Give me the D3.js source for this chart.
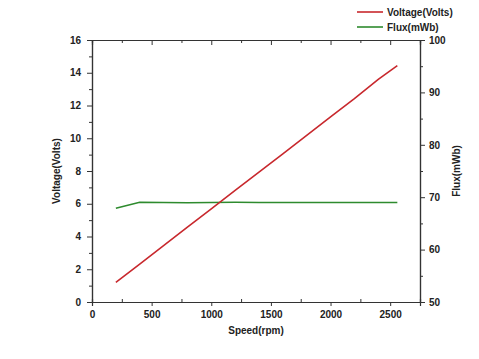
<!DOCTYPE html>
<html>
<head>
<meta charset="utf-8">
<script src="https://cdn.jsdelivr.net/npm/d3@7"></script>
<style>
  body { margin: 0; background: #fff; }
  text { font-family: "Liberation Sans", Arial, sans-serif; font-weight: bold; fill: #222; }
</style>
</head>
<body>
<div id="chart"></div>
<script>
// data
const speed   = [200, 400, 600, 800, 1000, 1200, 1400, 1600, 1800, 2000, 2200, 2400, 2560];
const voltage = [1.2, 2.32, 3.44, 4.57, 5.69, 6.81, 7.93, 9.05, 10.18, 11.3, 12.42, 13.6, 14.44];
const flux    = [67.9, 69.05, 69.0, 68.95, 69.0, 69.05, 69.0, 69.0, 69.0, 69.0, 69.0, 69.0, 69.0];
const xTicks  = [0, 500, 1000, 1500, 2000, 2500];
const yTicks  = [0, 2, 4, 6, 8, 10, 12, 14, 16];
const y2Ticks = [50, 60, 70, 80, 90, 100];

const W = 479, H = 359;
const margin = {top: 40, right: 59, bottom: 57, left: 92};
const width = W - margin.left - margin.right;
const height = H - margin.top - margin.bottom;

const svg = d3.select('#chart').append('svg')
  .attr('width', W).attr('height', H);
const g = svg.append('g')
  .attr('transform', 'translate(' + margin.left + ',' + margin.top + ')');

const x = d3.scaleLinear().domain([0, 2750]).range([0, width]);
const y = d3.scaleLinear().domain([0, 16]).range([height, 0]);
const y2 = d3.scaleLinear().domain([50, 100]).range([height, 0]);

const axisColor = '#333';

function styleAxis(sel) {
  sel.select('.domain').attr('stroke', axisColor).attr('stroke-width', 1.2);
  sel.selectAll('.tick line').attr('stroke', axisColor).attr('stroke-width', 1);
  sel.selectAll('.tick text').style('font-size', '10px');
}

// minor ticks
const xMinor = d3.range(250, 2750, 500);
const yMinor = d3.range(1, 16, 2);
const y2Minor = d3.range(55, 100, 10);

// bottom
g.append('g').attr('transform', 'translate(0,' + height + ')')
  .call(d3.axisBottom(x).tickValues(xTicks).tickSize(4).tickPadding(5).tickFormat(d3.format('d')))
  .call(styleAxis);
g.append('g').attr('transform', 'translate(0,' + height + ')')
  .call(d3.axisBottom(x).tickValues(xMinor).tickSize(-3).tickFormat(''))
  .call(styleAxis);
// top
g.append('g')
  .call(d3.axisTop(x).tickValues(xTicks).tickSize(-5).tickFormat(''))
  .call(styleAxis);
g.append('g')
  .call(d3.axisTop(x).tickValues(xMinor).tickSize(-3).tickFormat(''))
  .call(styleAxis);
// left
g.append('g')
  .call(d3.axisLeft(y).tickValues(yTicks).tickSize(5).tickPadding(6))
  .call(styleAxis);
g.append('g')
  .call(d3.axisLeft(y).tickValues(yMinor).tickSize(3).tickFormat(''))
  .call(styleAxis);
// right
g.append('g').attr('transform', 'translate(' + width + ',0)')
  .call(d3.axisRight(y2).tickValues(y2Ticks).tickSize(5).tickPadding(4))
  .call(styleAxis);
g.append('g').attr('transform', 'translate(' + width + ',0)')
  .call(d3.axisRight(y2).tickValues(y2Minor).tickSize(3).tickFormat(''))
  .call(styleAxis);

// lines
const vLine = d3.line().x((d, i) => x(speed[i])).y(d => y(d));
const fLine = d3.line().x((d, i) => x(speed[i])).y(d => y2(d));

g.append('path').datum(flux)
  .attr('d', fLine).attr('fill', 'none')
  .attr('stroke', '#2e8b2e').attr('stroke-width', 1.6);
g.append('path').datum(voltage)
  .attr('d', vLine).attr('fill', 'none')
  .attr('stroke', '#c8282d').attr('stroke-width', 1.6);

// axis titles
g.append('text')
  .attr('x', width / 2).attr('y', height + 32)
  .attr('text-anchor', 'middle').style('font-size', '10px')
  .text('Speed(rpm)');
g.append('text')
  .attr('transform', 'translate(' + (-32) + ',' + (height / 2) + ') rotate(-90)')
  .attr('text-anchor', 'middle').style('font-size', '10px')
  .text('Voltage(Volts)');
g.append('text')
  .attr('transform', 'translate(' + (width + 40) + ',' + (height / 2) + ') rotate(-90)')
  .attr('text-anchor', 'middle').style('font-size', '10px')
  .text('Flux(mWb)');

// legend
const legendItems = [
  {name: 'Voltage(Volts)', color: '#c8282d'},
  {name: 'Flux(mWb)', color: '#2e8b2e'}
];
const legend = svg.append('g').attr('transform', 'translate(357,12)');
const li = legend.selectAll('g').data(legendItems).enter().append('g')
  .attr('transform', (d, i) => 'translate(0,' + i * 15 + ')');
li.append('line')
  .attr('x1', 0).attr('x2', 26).attr('y1', 0).attr('y2', 0)
  .attr('stroke', d => d.color).attr('stroke-width', 1.6);
li.append('text')
  .attr('x', 30).attr('dy', '0.35em').style('font-size', '10px')
  .text(d => d.name);
</script>
</body>
</html>
